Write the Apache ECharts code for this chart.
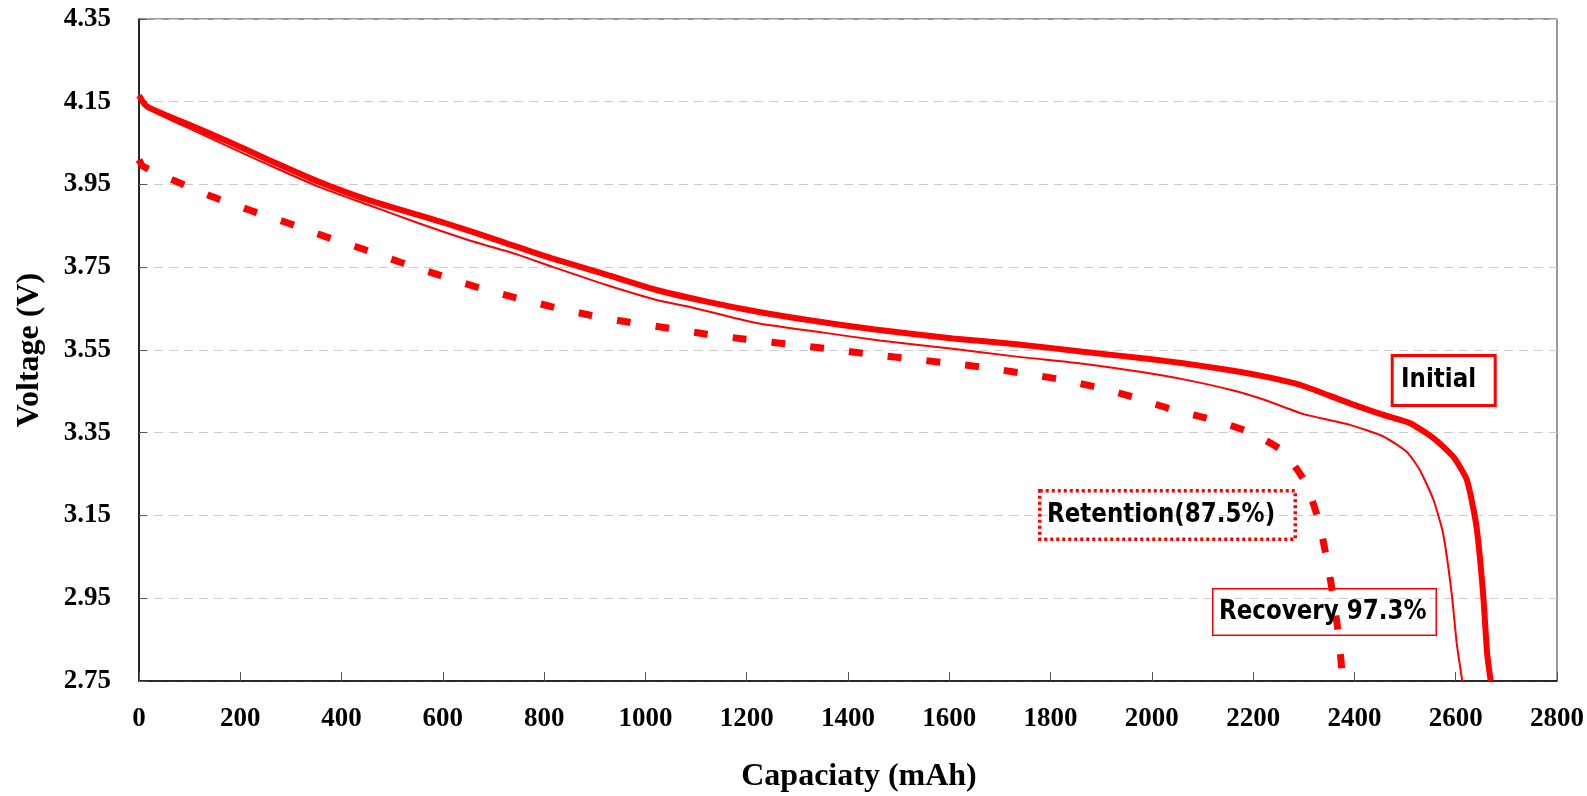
<!DOCTYPE html>
<html>
<head>
<meta charset="utf-8">
<style>
  html, body { margin: 0; padding: 0; background: #fff; }
  #main { width: 1587px; height: 796px; }
</style>
<script src="https://cdn.jsdelivr.net/npm/echarts@6/dist/echarts.min.js"></script>
</head>
<body>
<div id="main"></div>
<script>
// discharge curves, capacity (mAh) vs voltage (V)
const initialCap = [0, 15, 90, 176, 255, 354, 452, 604, 716, 814, 923, 1022, 1121, 1219, 1318, 1450, 1607, 1733, 1864, 1996, 2062, 2161, 2226, 2292, 2391, 2457, 2510, 2556, 2595, 2622, 2641, 2654, 2662, 2669];
const initialV = [4.165, 4.139, 4.099, 4.054, 4.010, 3.957, 3.913, 3.857, 3.812, 3.772, 3.732, 3.695, 3.667, 3.643, 3.623, 3.600, 3.578, 3.564, 3.546, 3.528, 3.518, 3.500, 3.485, 3.466, 3.421, 3.393, 3.373, 3.337, 3.292, 3.236, 3.123, 2.962, 2.817, 2.75];

const recoveryCap = [0, 15, 84, 176, 255, 354, 452, 551, 650, 749, 814, 923, 1022, 1088, 1219, 1351, 1463, 1607, 1733, 1864, 1983, 2075, 2161, 2226, 2300, 2391, 2457, 2503, 2529, 2556, 2575, 2592, 2602, 2613];
const recoveryV = [4.165, 4.135, 4.094, 4.042, 3.998, 3.945, 3.901, 3.857, 3.816, 3.780, 3.752, 3.707, 3.671, 3.654, 3.615, 3.592, 3.573, 3.553, 3.534, 3.517, 3.496, 3.476, 3.452, 3.428, 3.395, 3.369, 3.341, 3.304, 3.260, 3.188, 3.107, 2.962, 2.841, 2.75];

const retentionCap = [0, 8, 76, 148, 221, 294, 368, 442, 516, 590, 664, 739, 814, 891, 968, 1044, 1121, 1198, 1275, 1353, 1430, 1507, 1585, 1662, 1738, 1815, 1891, 1967, 2040, 2115, 2189, 2257, 2302, 2329, 2345, 2358, 2369, 2377];
const retentionV = [4.010, 3.994, 3.956, 3.919, 3.887, 3.857, 3.824, 3.794, 3.762, 3.732, 3.703, 3.678, 3.655, 3.634, 3.617, 3.603, 3.588, 3.576, 3.565, 3.554, 3.542, 3.531, 3.520, 3.509, 3.495, 3.480, 3.460, 3.435, 3.406, 3.383, 3.353, 3.307, 3.232, 3.139, 3.047, 2.954, 2.857, 2.75];

const xMin = 0, xMax = 2800, xStep = 200;
const yMin = 2.75, yMax = 4.35, yStep = 0.2;

function pairs(xs, ys) {
  return xs.map((x, i) => [x, ys[i]]);
}

const RED = '#ff0000';
const serif = '"Liberation Serif", "Times New Roman", serif';
const sans = '"DejaVu Sans", Verdana, sans-serif';

// boxed note text, a bit taller than the plain font
function note(x, y, text) {
  return {
    type: 'text', z: 101, x: x, y: y, scaleY: 1.12,
    style: {text: text, font: 'bold 23px ' + sans, fill: '#000', verticalAlign: 'middle'}
  };
}

const dom = document.getElementById('main');
const myChart = echarts.init(dom, null, {renderer: 'canvas'});

myChart.setOption({
  animation: false,
  backgroundColor: '#fff',
  textStyle: {fontFamily: serif},
  grid: {
    left: 139,
    top: 19,
    right: 30,
    bottom: 115,
    containLabel: false,
    outerBoundsMode: 'none',
    show: true,
    borderColor: '#333',
    borderWidth: 1
  },
  xAxis: {
    type: 'value',
    min: xMin,
    max: xMax,
    interval: xStep,
    name: 'Capaciaty (mAh)',
    nameLocation: 'middle',
    nameGap: 80,
    nameTextStyle: {fontFamily: serif, fontWeight: 'bold', fontSize: 32, color: '#000', padding: [0, 0, 0, 22]},
    axisLine: {onZero: false, lineStyle: {color: '#000', width: 1.5}},
    axisTick: {inside: true, length: 9, lineStyle: {color: '#555'}},
    axisLabel: {
      margin: 25, fontFamily: serif, fontWeight: 'bold', fontSize: 27, color: '#000',
      formatter: (v) => String(v),
      showMinLabel: true, showMaxLabel: true, hideOverlap: false
    },
    splitLine: {show: false}
  },
  yAxis: {
    type: 'value',
    min: yMin,
    max: yMax,
    interval: yStep,
    name: 'Voltage (V)',
    nameLocation: 'middle',
    nameGap: 93,
    nameRotate: 90,
    nameTextStyle: {fontFamily: serif, fontWeight: 'bold', fontSize: 32, color: '#000'},
    axisLine: {show: true, onZero: false, lineStyle: {color: '#000', width: 1.5}},
    axisTick: {show: true, inside: true, length: 8, lineStyle: {color: '#555'}},
    axisLabel: {
      margin: 28, fontFamily: serif, fontWeight: 'bold', fontSize: 27, color: '#000',
      formatter: (v) => v.toFixed(2),
      showMinLabel: true, showMaxLabel: true, hideOverlap: false
    },
    splitLine: {show: true, lineStyle: {color: '#cccccc', width: 1, type: [9, 6]}}
  },
  series: [{
    name: 'Recovery',
    type: 'line',
    data: pairs(recoveryCap, recoveryV),
    showSymbol: false,
    smooth: 0.2,
    clip: true,
    lineStyle: {color: RED, width: 2}
  }, {
    name: 'Initial',
    type: 'line',
    data: pairs(initialCap, initialV),
    showSymbol: false,
    smooth: 0.2,
    clip: true,
    lineStyle: {color: RED, width: 6}
  }, {
    name: 'Retention',
    type: 'line',
    data: pairs(retentionCap, retentionV),
    showSymbol: false,
    smooth: 0.2,
    clip: true,
    lineStyle: {color: RED, width: 7, type: [14, 25], cap: 'butt'}
  }],
  graphic: [
    {
      type: 'rect', z: 100,
      shape: {x: 1392.2, y: 355.5, width: 103, height: 50},
      style: {fill: 'none', stroke: RED, lineWidth: 3}
    },
    note(1401, 380, 'Initial'),
    {
      type: 'rect', z: 100,
      shape: {x: 1039.75, y: 490.75, width: 255.5, height: 48.5},
      style: {fill: 'none', stroke: RED, lineWidth: 3.5, lineDash: [3, 3]}
    },
    note(1047, 515, 'Retention(87.5%)'),
    {
      type: 'rect', z: 100,
      shape: {x: 1212.75, y: 588.75, width: 223.5, height: 46.5},
      style: {fill: 'none', stroke: RED, lineWidth: 1.5}
    },
    note(1219, 612, 'Recovery 97.3%')
  ]
});
</script>
</body>
</html>
